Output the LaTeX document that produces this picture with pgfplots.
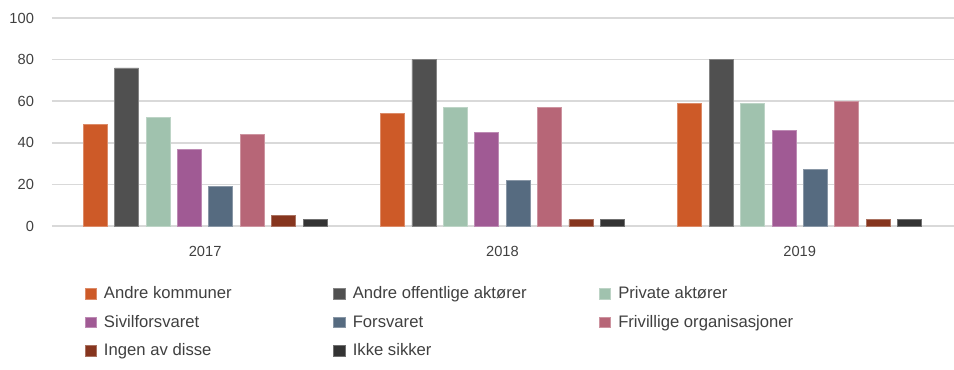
\documentclass[border=0pt]{standalone}
\usepackage{pgfplots}
\pgfplotsset{compat=1.18}
\usepackage{fontspec}
\setmainfont{Liberation Sans}
\definecolor{c1}{HTML}{CD5A28}
\definecolor{c2}{HTML}{505050}
\definecolor{c3}{HTML}{A0C2AE}
\definecolor{c4}{HTML}{A05A94}
\definecolor{c5}{HTML}{566B80}
\definecolor{c6}{HTML}{B76677}
\definecolor{c7}{HTML}{86351E}
\definecolor{c8}{HTML}{333333}
\definecolor{gridgray}{HTML}{D9D9D9}
\definecolor{textgray}{HTML}{404040}
\newcommand{\ca}[1]{\hspace{5.25pt}\makebox[172pt][l]{#1}}
\newcommand{\cb}[1]{\hspace{5.25pt}\makebox[184.5pt][l]{#1}}
\newcommand{\cc}[1]{\hspace{5.25pt}#1}
\begin{document}
\begin{tikzpicture}
\begin{axis}[
  scale only axis, width=676.5pt, height=156pt,
  xmin=-0.515, xmax=2.519, ymin=0, ymax=100,
  enlargelimits=false,
  ybar=5.55pt, bar width=18pt,
  xtick={0,1,2}, xticklabels={2017,2018,2019},
  ytick={0,20,40,60,80,100},
  ymajorgrids, grid style={draw=gridgray, line width=1.1pt},
  axis line style={draw=none}, major tick length=0pt,
  tick label style={font=\fontsize{11}{13}\selectfont, text=textgray},
  yticklabel style={xshift=-10pt},
  xticklabel style={yshift=-11.5pt},
  /pgf/number format/assume math mode=true,
  legend columns=3,
  legend style={at={(rel axis cs:0,0)}, anchor=north west, xshift=24.2pt, yshift=-40.1pt,
    draw=none, fill=none, inner sep=0pt, column sep=0pt, row sep=0pt,
    nodes={inner sep=0pt, minimum height=21.3pt, text=textgray, font=\fontsize{12.5}{14}\selectfont},
    cells={anchor=west}},
  legend image code/.code={\fill[#1] (0pt,-4pt) rectangle (8.75pt,4pt);},
  clip=false,
]
\addplot[fill=c1, draw=c1!70!white, line width=0.6pt] coordinates {(0,49) (1,54) (2,59)};
\addplot[fill=c2, draw=c2!70!white, line width=0.6pt] coordinates {(0,76) (1,80) (2,80)};
\addplot[fill=c3, draw=c3!70!white, line width=0.6pt] coordinates {(0,52) (1,57) (2,59)};
\addplot[fill=c4, draw=c4!70!white, line width=0.6pt] coordinates {(0,37) (1,45) (2,46)};
\addplot[fill=c5, draw=c5!70!white, line width=0.6pt] coordinates {(0,19) (1,22) (2,27)};
\addplot[fill=c6, draw=c6!70!white, line width=0.6pt] coordinates {(0,44) (1,57) (2,60)};
\addplot[fill=c7, draw=c7!70!white, line width=0.6pt] coordinates {(0,5) (1,3) (2,3)};
\addplot[fill=c8, draw=c8!70!white, line width=0.6pt] coordinates {(0,3) (1,3) (2,3)};
\addlegendentry{\ca{Andre kommuner}}
\addlegendentry{\cb{Andre offentlige aktører}}
\addlegendentry{\cc{Private aktører}}
\addlegendentry{\ca{Sivilforsvaret}}
\addlegendentry{\cb{Forsvaret}}
\addlegendentry{\cc{Frivillige organisasjoner}}
\addlegendentry{\ca{Ingen av disse}}
\addlegendentry{\cb{Ikke sikker}}
\coordinate (bl) at (rel axis cs:0,0);
\coordinate (tr) at (rel axis cs:1,1);
\end{axis}
\pgfresetboundingbox
\path[use as bounding box] ([xshift=-39pt,yshift=-107.25pt]bl) rectangle ([yshift=13.5pt]tr);
\end{tikzpicture}
\end{document}
